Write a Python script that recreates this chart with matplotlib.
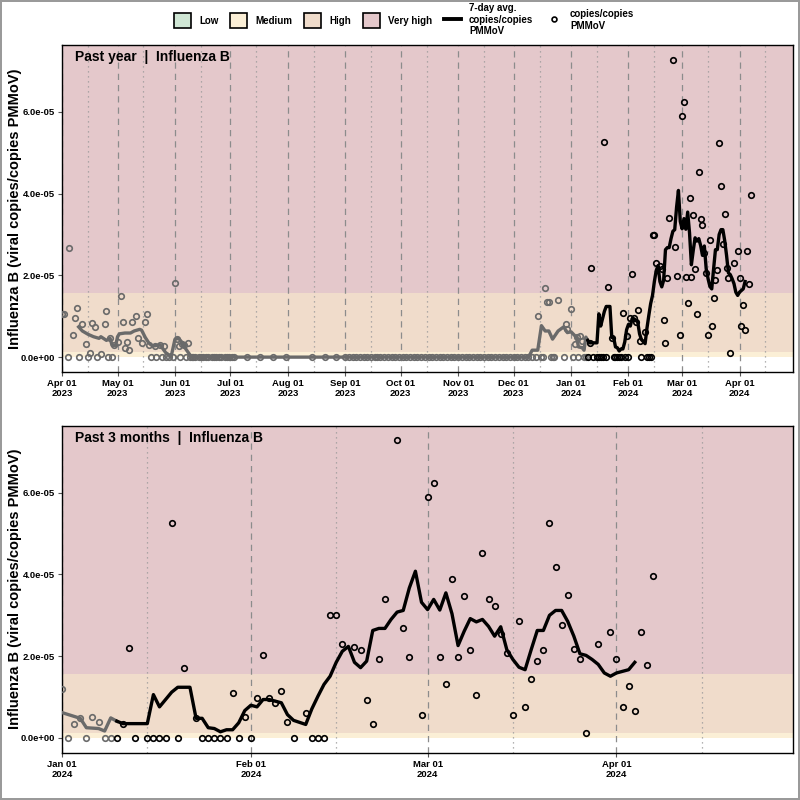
import numpy as np
import pandas as pd
import matplotlib
matplotlib.use('Agg')
import matplotlib.pyplot as plt
import matplotlib.dates as mdates
from matplotlib.patches import Patch
from matplotlib.lines import Line2D

plt.rcParams['font.family'] = ['Liberation Sans', 'DejaVu Sans']

# ---- data ----
base_2023 = np.datetime64('2023-04-01')
base_2024 = np.datetime64('2024-01-01')
cutoff = np.datetime64('2024-01-10')   # older than this is drawn grey

# daily readings, days counted from 2023-04-01
obs_days_2023 = [0, 1, 4, 6, 7, 8, 11, 13, 15, 16, 18, 21, 23, 24, 26, 28, 30, 32,
                 33, 34, 35, 36, 38, 40, 41, 43, 45, 46, 47, 50, 53, 55, 61, 62, 63,
                 65, 66, 68, 257, 261, 262, 263, 268, 272, 273]
obs_vals_2023 = [1.06e-5, 1.06e-5, 2.68e-5, 5.3e-6, 9.6e-6, 1.2e-5, 8.1e-6, 3.1e-6,
                 1.0e-6, 8.4e-6, 7.4e-6, 7e-7, 8.0e-6, 1.12e-5, 4.8e-6, 2.9e-6,
                 3.7e-6, 1.5e-5, 8.5e-6, 2.3e-6, 3.6e-6, 1.7e-6, 8.5e-6, 1.0e-5,
                 4.8e-6, 3.4e-6, 8.5e-6, 1.06e-5, 2.9e-6, 2.8e-6, 2.9e-6, 2.8e-6,
                 1.82e-5, 4.5e-6, 2.8e-6, 3.2e-6, 2.9e-6, 3.4e-6, 1.0e-5, 1.68e-5,
                 1.36e-5, 1.36e-5, 1.40e-5, 8.0e-6, 6.8e-6]
zero_days_2023 = [3, 9, 14, 19, 25, 27, 48, 51, 54, 56, 58, 60, 64, 67, 69, 70, 71,
                  72, 74, 75, 76, 78, 79, 81, 82, 83, 85, 86, 88, 89, 90, 92, 93, 100,
                  107, 114, 121, 135, 142, 148, 153, 155, 157, 159, 161, 163, 165, 167,
                  169, 170, 172, 174, 176, 178, 180, 182, 184, 186, 188, 190, 192, 194,
                  196, 198, 200, 202, 204, 206, 208, 210, 212, 214, 216, 218, 220, 222,
                  224, 226, 228, 230, 232, 234, 236, 238, 240, 242, 244, 246, 248, 250,
                  252, 254, 256, 259, 260, 264, 265, 266, 271]

# daily readings, days counted from 2024-01-01
obs_days_2024 = [0, 1, 2, 3, 4, 5, 6, 7, 8, 9, 10, 11, 12, 14, 15, 16, 17, 18, 19, 20,
                 22, 23, 24, 25, 26, 27, 28, 29, 30, 31, 32, 33, 34, 35, 36, 37, 38,
                 40, 41, 42, 43, 44, 45, 46, 48, 49, 50, 51, 52, 53, 55, 56, 57, 59,
                 60, 61, 62, 63, 64, 65, 66, 67, 68, 69, 70, 71, 72, 73, 74, 75, 76,
                 77, 78, 79, 80, 81, 82, 83, 84, 85, 86, 88, 90, 91, 92, 93, 94, 95,
                 96, 97]
obs_vals_2024 = [1.19e-5, 0, 3.3e-6, 4.9e-6, 0, 5.1e-6, 4.0e-6, 0, 0, 0, 3.5e-6,
                 2.19e-5, 0, 0, 0, 0, 0, 5.27e-5, 0, 1.72e-5, 4.8e-6, 0, 0, 0, 0, 0,
                 1.09e-5, 0, 5.1e-6, 0, 9.65e-6, 2.04e-5, 9.65e-6, 8.6e-6, 1.16e-5,
                 4.0e-6, 0, 6.2e-6, 0, 0, 0, 3.0e-5, 3.0e-5, 2.31e-5, 2.23e-5,
                 2.16e-5, 9.2e-6, 3.4e-6, 1.94e-5, 3.4e-5, 7.28e-5, 2.69e-5, 1.99e-5,
                 5.5e-6, 5.9e-5, 6.24e-5, 1.97e-5, 1.32e-5, 3.89e-5, 1.97e-5, 3.47e-5,
                 2.15e-5, 1.06e-5, 4.53e-5, 3.39e-5, 3.23e-5, 2.55e-5, 2.07e-5, 5.5e-6,
                 2.86e-5, 7.6e-6, 1.44e-5, 1.89e-5, 2.14e-5, 5.25e-5, 4.19e-5, 2.77e-5,
                 3.5e-5, 2.18e-5, 1.93e-5, 1.1e-6, 2.31e-5, 2.6e-5, 1.94e-5, 7.6e-6,
                 1.28e-5, 6.7e-6, 2.6e-5, 1.79e-5, 3.97e-5]

# 7-day average line
avg_days_2023 = [9, 11, 14, 17, 20, 21, 24, 26, 27, 29, 30, 31, 34, 37, 39, 42, 43,
                 45, 47, 49, 53, 56, 58, 59, 61, 63, 65, 67, 70, 252, 254, 257, 259,
                 261, 263, 265, 268, 271, 273]
avg_vals_2023 = [7.4e-6, 6.4e-6, 5.6e-6, 5.0e-6, 4.6e-6, 5.0e-6, 4.1e-6, 4.6e-6,
                 2.9e-6, 2.8e-6, 5.0e-6, 5.7e-6, 5.9e-6, 5.9e-6, 6.4e-6, 6.8e-6,
                 6.6e-6, 4.8e-6, 3.4e-6, 2.7e-6, 3.0e-6, 1.1e-6, 5e-7, 2e-7, 4.35e-6,
                 4.6e-6, 3.5e-6, 1.9e-6, 0, 0, 1.7e-6, 1.7e-6, 7.7e-6, 6.4e-6, 6.4e-6,
                 4.4e-6, 6.4e-6, 7.4e-6, 6.0e-6]
avg_days_2024 = [0, 3, 4, 6, 7, 8, 9, 10, 14, 15, 16, 17, 18, 19, 21, 22, 23, 24, 25,
                 26, 27, 28, 29, 30, 31, 32, 33, 34, 35, 36, 37, 38, 40, 41, 42, 43,
                 44, 45, 46, 47, 48, 49, 50, 51, 52, 53, 54, 55, 56, 57, 58, 59, 60,
                 61, 62, 63, 64, 65, 66, 67, 68, 69, 70, 71, 72, 73, 74, 75, 76, 77,
                 78, 79, 80, 81, 82, 83, 84, 85, 86, 87, 88, 89, 90, 91, 92, 93, 94]
avg_vals_2024 = [6.2e-6, 4.8e-6, 2.5e-6, 2.3e-6, 1.7e-6, 4.9e-6, 4.1e-6, 3.5e-6,
                 3.5e-6, 1.06e-5, 7.6e-6, 9.4e-6, 1.12e-5, 1.24e-5, 1.24e-5, 4.8e-6,
                 4.8e-6, 2.5e-6, 2.3e-6, 1.5e-6, 2.0e-6, 2.0e-6, 3.7e-6, 6.7e-6,
                 8.0e-6, 7.6e-6, 9.4e-6, 9.4e-6, 9.0e-6, 8.6e-6, 5.7e-6, 4.3e-6,
                 3.3e-6, 7.1e-6, 1.02e-5, 1.31e-5, 1.51e-5, 1.85e-5, 2.12e-5, 2.24e-5,
                 1.85e-5, 1.72e-5, 1.88e-5, 2.63e-5, 2.68e-5, 2.68e-5, 2.9e-5, 3.08e-5,
                 3.12e-5, 3.67e-5, 4.08e-5, 3.32e-5, 3.14e-5, 3.39e-5, 3.13e-5, 3.55e-5,
                 3.04e-5, 2.26e-5, 2.61e-5, 2.92e-5, 2.84e-5, 2.9e-5, 2.73e-5, 2.49e-5,
                 2.72e-5, 2.16e-5, 1.92e-5, 1.73e-5, 1.67e-5, 2.16e-5, 2.63e-5, 2.63e-5,
                 3.0e-5, 3.12e-5, 3.12e-5, 2.85e-5, 2.49e-5, 2.06e-5, 2.02e-5, 1.92e-5,
                 1.8e-5, 1.59e-5, 1.51e-5, 1.59e-5, 1.63e-5, 1.67e-5, 1.85e-5]

band_names = ['Low', 'Medium', 'High', 'Very high']
band_lo = [0.0, 0.0, 1.2e-6, 1.56e-5]
band_hi = [0.0, 1.2e-6, 1.56e-5, 1.0]
band_colors = ['#cfe6d4', '#fbefd6', '#f0dccb', '#e4c8cb']

y_ticks = [0.0, 2.0e-5, 4.0e-5, 6.0e-5]
ylabel = 'Influenza B (viral copies/copies PMMoV)'

# ---- assemble ----
def to_dates(base, days):
    return base + np.array(days, dtype='timedelta64[D]')

obs_d = np.concatenate([to_dates(base_2023, obs_days_2023),
                        to_dates(base_2023, zero_days_2023),
                        to_dates(base_2024, obs_days_2024)])
obs_v = np.concatenate([obs_vals_2023, np.zeros(len(zero_days_2023)), obs_vals_2024])
avg_d = np.concatenate([to_dates(base_2023, avg_days_2023), to_dates(base_2024, avg_days_2024)])
avg_v = np.concatenate([avg_vals_2023, avg_vals_2024])

old_pt = obs_d < cutoff
old_ln = avg_d <= cutoff
new_ln = avg_d >= cutoff

ymax = obs_v.max()
ylim = (-0.05 * ymax, 1.05 * ymax)

grey = '#6a6a6a'
bold = {'fontweight': 'bold'}

fig = plt.figure(figsize=(8, 8), dpi=100, facecolor='white')
fig.patch.set_edgecolor('#9a9a9a')
fig.patch.set_linewidth(1.5)

panels = [
    ('Past year  |  Influenza B', np.datetime64('2023-04-01'), np.datetime64('2024-04-30'),
     [0.0775, 0.535, 0.914, 0.409]),
    ('Past 3 months  |  Influenza B', np.datetime64('2024-01-01'), np.datetime64('2024-04-30'),
     [0.0775, 0.059, 0.914, 0.409]),
]

for title, x0, x1, rect in panels:
    ax = fig.add_axes(rect)
    for lo, hi, c in zip(band_lo, band_hi, band_colors):
        if hi > lo:
            ax.axhspan(lo, hi, color=c, lw=0, zorder=0)

    months = pd.date_range(str(x0), str(x1), freq='MS')
    mids = months + pd.Timedelta(days=14)
    for m in months:
        ax.axvline(m, color='#8c8c8c', ls=(0, (5, 4)), lw=0.9, zorder=1)
    for m in mids:
        if m <= pd.Timestamp(str(x1)):
            ax.axvline(m, color='#9a9a9a', ls=(0, (1, 3)), lw=0.9, zorder=1)

    ax.plot(avg_d[old_ln], avg_v[old_ln], color=grey, lw=2.4, zorder=3, solid_joinstyle='round')
    ax.plot(avg_d[new_ln], avg_v[new_ln], color='black', lw=2.4, zorder=3, solid_joinstyle='round')
    ax.plot(obs_d[old_pt], obs_v[old_pt], ls='', marker='o', ms=4.0, mfc='none',
            mec=grey, mew=1.2, zorder=4)
    ax.plot(obs_d[~old_pt], obs_v[~old_pt], ls='', marker='o', ms=4.0, mfc='none',
            mec='black', mew=1.2, zorder=4)

    ax.set_xlim(x0, x1)
    ax.set_ylim(*ylim)
    ax.set_xticks(months)
    ax.xaxis.set_major_formatter(mdates.DateFormatter('%b %d\n%Y'))
    ax.set_yticks(y_ticks)
    ax.set_yticklabels([f'{v:.1e}' for v in y_ticks])
    ax.tick_params(axis='both', labelsize=6.8, length=3, color='#555555', pad=2)
    for lab in ax.get_xticklabels() + ax.get_yticklabels():
        lab.set_fontweight('bold')
    ax.set_ylabel(ylabel, fontsize=10.5, **bold)
    ax.yaxis.set_label_coords(-0.055, 0.5)
    for s in ax.spines.values():
        s.set_color('black')
        s.set_linewidth(1.0)
    ax.text(0.018, 0.985, title, transform=ax.transAxes, ha='left', va='top',
            fontsize=10, **bold)

handles = [Patch(facecolor=c, edgecolor='black', lw=1.2) for c in band_colors]
handles.append(Line2D([], [], color='black', lw=2.8))
handles.append(Line2D([], [], ls='', marker='o', ms=3.5, mfc='none', mec='black', mew=1.2))
labels = band_names + ['7-day avg.\ncopies/copies\nPMMoV', 'copies/copies\nPMMoV']
fig.legend(handles, labels, loc='upper center', bbox_to_anchor=(0.505, 1.007), ncol=6,
           frameon=False, prop={'size': 7, 'weight': 'bold'}, handlelength=1.8,
           handleheight=1.9, columnspacing=1.2, handletextpad=0.8, labelspacing=0.2)

fig.savefig('out.png', dpi=100, facecolor='white')
